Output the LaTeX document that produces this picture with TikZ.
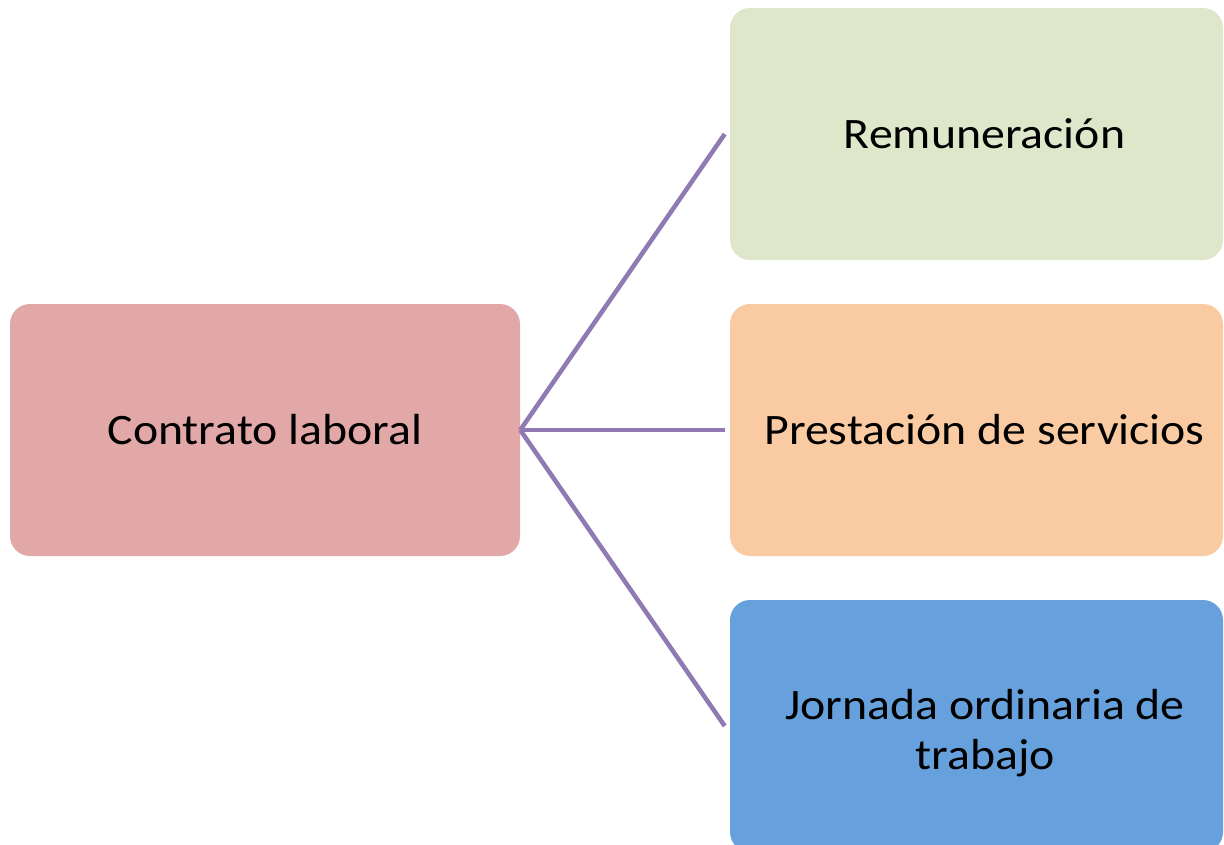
\documentclass[tikz,border=0pt]{standalone}
\usepackage{fontspec}
\setmainfont{Carlito}[FakeStretch=1.1]
\definecolor{boxpink}{HTML}{E1A8A7}
\definecolor{boxgreen}{HTML}{DFE7CB}
\definecolor{boxorange}{HTML}{FACBA2}
\definecolor{boxblue}{HTML}{66A1DD}
\definecolor{linkpurple}{HTML}{9179B4}
\tikzset{
  box/.style={rectangle, rounded corners=15pt, minimum width=369.75pt, minimum height=189pt,
    inner sep=0pt, align=center, text=black, font=\fontsize{32.6}{37.5}\selectfont},
  boxtext/.style={inner sep=0pt, align=center, text=black, font=\fontsize{32.6}{37.5}\selectfont},
  link/.style={draw=linkpurple, line width=3.4pt}
}
\begin{document}
\begin{tikzpicture}[x=0.75pt, y=-0.75pt]
\useasboundingbox (0,0) rectangle (1224,844);
\clip (0,0) rectangle (1224,844);
\node[box, fill=boxpink, minimum width=382.5pt] (main) at (265,430) {Contrato laboral};
\node[box, fill=boxgreen] (rem) at (976.5,134) {\hspace*{12pt}Remuneración};
\node[box, fill=boxorange] (pres) at (976.5,430) {\hspace*{12pt}Prestación de servicios};
\node[box, fill=boxblue] (jor) at (976.5,726) {};
\node[boxtext] (jortext) at (985,733) {Jornada ordinaria de\\trabajo};
\coordinate (e1) at ([xshift=-3.75pt]rem.west);
\coordinate (e2) at ([xshift=-3.75pt]pres.west);
\coordinate (e3) at ([xshift=-3.75pt]jor.west);
\draw[link] (main.east) -- (e1);
\draw[link] (main.east) -- (e2);
\draw[link] (main.east) -- (e3);
\end{tikzpicture}
\end{document}
